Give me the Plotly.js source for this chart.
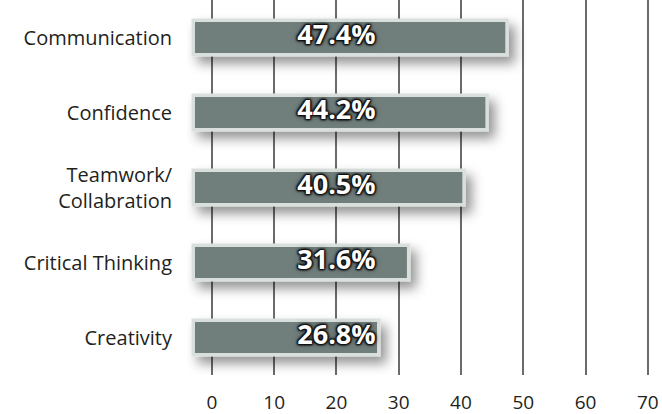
<!DOCTYPE html>
<html>
<head>
<meta charset="utf-8">
<script src="https://cdn.plot.ly/plotly-3.0.1.min.js"></script>
<style>
html,body{margin:0;padding:0;background:#fff;}
#chart{width:662px;height:414px;}
</style>
</head>
<body>
<svg width="0" height="0" style="position:absolute">
  <defs>
    <filter id="barshadow" x="-20%" y="-80%" width="145%" height="260%">
      <feDropShadow dx="6" dy="7" stdDeviation="6" flood-color="#000" flood-opacity="0.42"/>
    </filter>
  </defs>
</svg>
<div id="chart"></div>
<script>
const categories = ["Communication", "Confidence", "Teamwork/<br>Collabration", "Critical Thinking", "Creativity"];
const values = [47.4, 44.2, 40.5, 31.6, 26.8];
const labels = ["47.4%", "44.2%", "40.5%", "31.6%", "26.8%"];
const tickVals = [0, 10, 20, 30, 40, 50, 60, 70];

const barBase = -3;
const labelX = 20;

const bars = {
  type: 'bar',
  orientation: 'h',
  y: categories,
  x: values.map(v => v - barBase),
  base: barBase,
  width: 0.46,
  marker: {color: '#6f7e7b', line: {color: '#d9dfdc', width: 3.5}},
  hoverinfo: 'skip'
};

const texts = {
  type: 'scatter',
  mode: 'text',
  y: categories,
  x: categories.map(() => labelX),
  text: labels,
  textposition: 'middle center',
  textfont: {family: 'Open Sans, sans-serif', size: 27, color: '#ffffff', weight: 700,
    shadow: '0 0 2px #111, 0 0 2px #111, 1px 1px 2px #111, -1px -1px 2px #111, 1px -1px 2px #111, -1px 1px 2px #111, 0 0 6px rgba(0,0,0,0.6)'},
  hoverinfo: 'skip'
};

const layout = {
  width: 662, height: 414,
  margin: {l: 187, r: 8, t: 0, b: 39},
  paper_bgcolor: '#ffffff',
  plot_bgcolor: '#ffffff',
  showlegend: false,
  font: {family: 'Open Sans, sans-serif', color: '#231f20'},
  xaxis: {
    range: [-4, 71],
    tickvals: tickVals,
    ticktext: tickVals.map(String),
    showgrid: true, gridcolor: '#6b6b6b', gridwidth: 2,
    zeroline: false, showline: false, ticks: '',
    tickfont: {size: 19, color: '#231f20'},
    ticklabelstandoff: 14,
    fixedrange: true
  },
  yaxis: {
    type: 'category',
    autorange: 'reversed',
    showgrid: false, zeroline: false, showline: false, ticks: '',
    tickfont: {size: 20, color: '#231f20'},
    ticklabelstandoff: 14,
    fixedrange: true
  }
};

Plotly.newPlot('chart', [bars, texts], layout, {displayModeBar: false, staticPlot: true}).then(gd => {
  gd.querySelectorAll('.barlayer .point path').forEach(p => p.setAttribute('filter', 'url(#barshadow)'));
});
</script>
</body>
</html>
